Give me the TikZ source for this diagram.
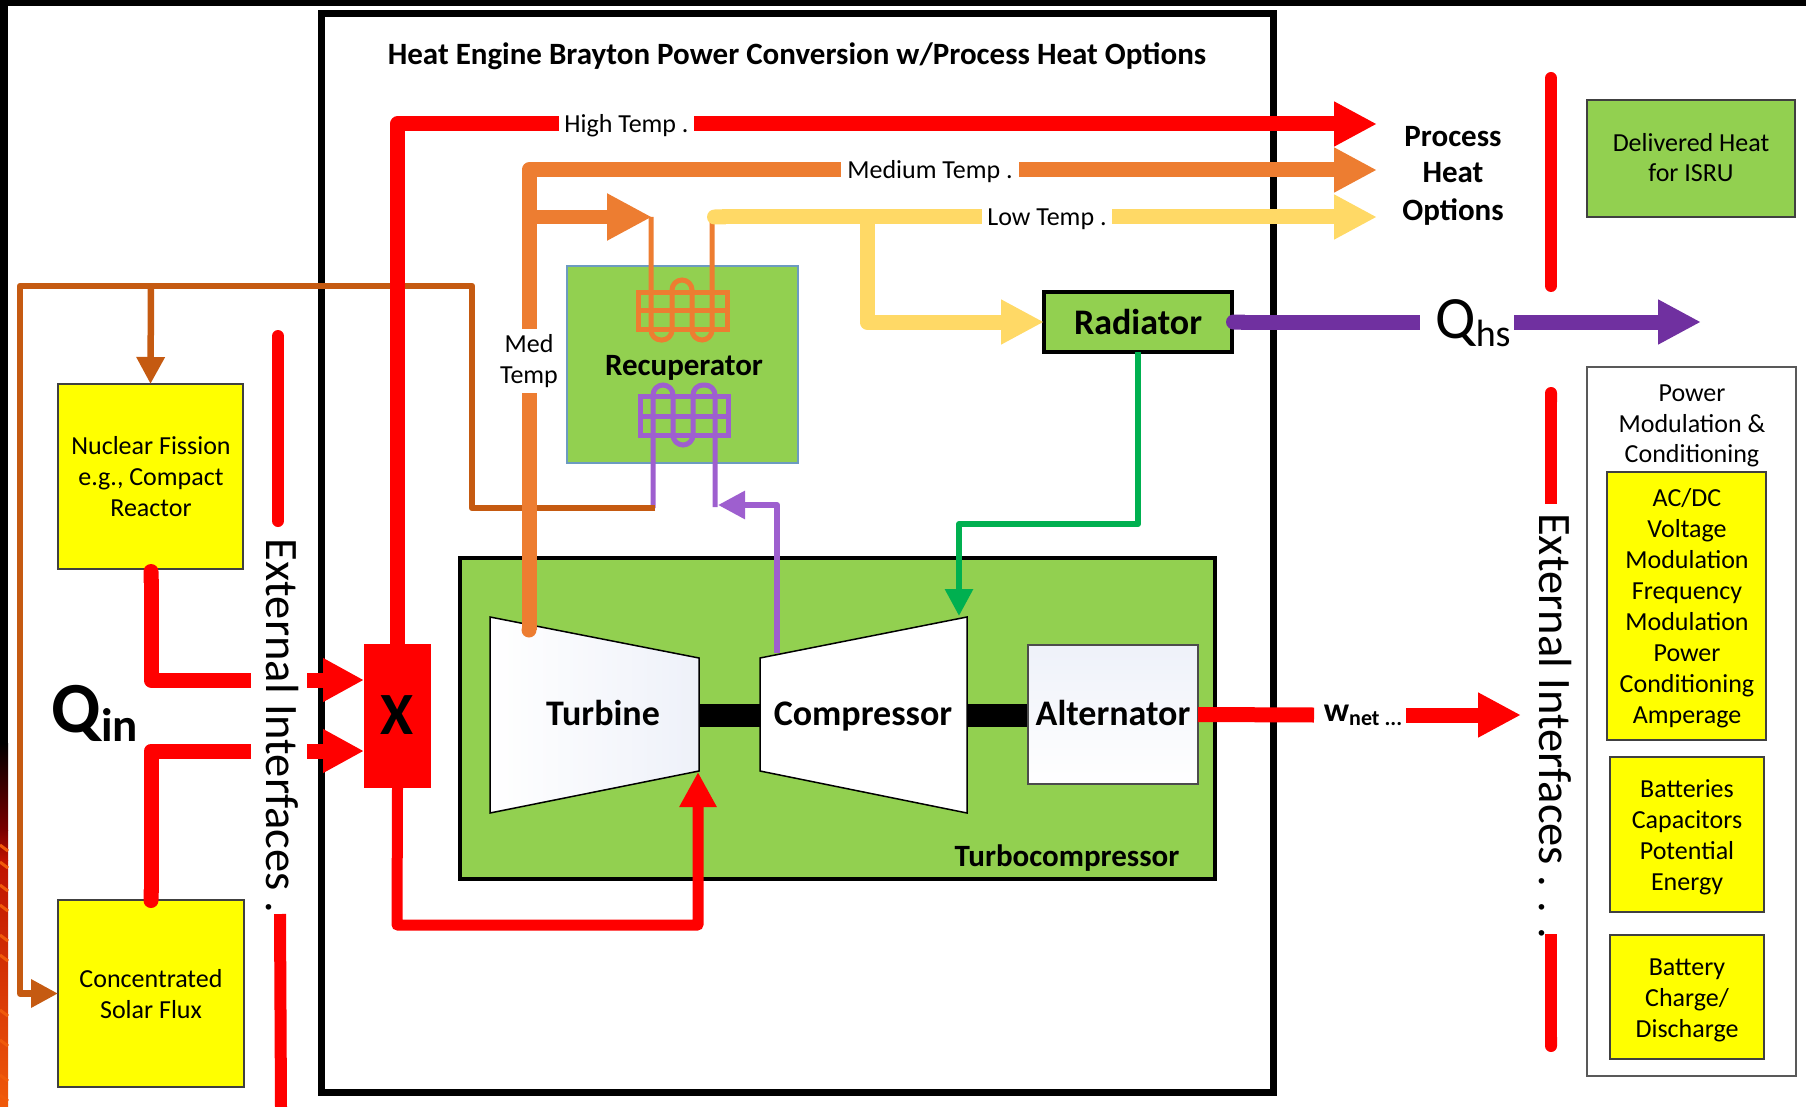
\documentclass[tikz,border=0pt]{standalone}
\usepackage{fontspec}
\setmainfont{Carlito}
\usetikzlibrary{arrows.meta}

\definecolor{boxgreen}{HTML}{92D050}
\definecolor{boxyellow}{HTML}{FFFF00}
\definecolor{hotred}{HTML}{FF0000}
\definecolor{medorange}{HTML}{ED7D31}
\definecolor{lowyellow}{HTML}{FFD966}
\definecolor{rustbrown}{HTML}{C55A11}
\definecolor{darkpurple}{HTML}{7030A0}
\definecolor{lightpurple}{HTML}{9E5FCF}
\definecolor{loopgreen}{HTML}{00B050}
\definecolor{steelblue}{HTML}{6C9BC0}
\definecolor{paleblue}{HTML}{EEF1F9}
\definecolor{firedark}{HTML}{7A0000}
\definecolor{firered}{HTML}{BE1200}
\definecolor{fireorange}{HTML}{F05A0A}

\newcommand{\fs}[1]{\fontsize{#1}{#1}\selectfont}

\tikzset{
  pipe/.style={line width=15pt, line join=round},
  thinpipe/.style={line width=6pt, line join=round},
  bigtip/.style={-{Triangle[length=43pt,width=42pt]}},
  smalltip/.style={-{Triangle[length=27pt,width=27pt]}},
  redbar/.style={line width=12pt, hotred},
  coil/.style={line width=5pt},
  srcbox/.style={draw=black!75, line width=2pt, fill=boxyellow, anchor=north west, inner sep=0pt, outer sep=0pt},
  flowlabel/.style={inner sep=0pt, outer sep=0pt, font=\fs{26}, text height=23pt, text depth=5pt},
  boldlabel/.style={inner sep=0pt, outer sep=0pt, font=\bfseries\fs{36}, text height=30pt, text depth=5pt},
  boldsmall/.style={inner sep=0pt, outer sep=0pt, font=\bfseries\fs{31}, text height=25pt, text depth=5pt},
  textline/.style={inner sep=0pt, outer sep=0pt, font=\fs{26}, text height=23pt, text depth=5pt, anchor=center}
}

\begin{document}
\begin{tikzpicture}[x=1pt, y=-1pt]
  \useasboundingbox (0,0) rectangle (1806,1107);

  % picture edge
  \fill[black] (0,0) rectangle (1806,6);
  \fill[black] (0,0) rectangle (8,743);
  \shade[top color=black, bottom color=firedark] (0,743) rectangle (8,830);
  \shade[top color=firedark, bottom color=firered] (0,830) rectangle (8,860);
  \shade[top color=firered, bottom color=fireorange] (0,860) rectangle (8,1107);
  \foreach \fy in {845,862,885,905,935,955,1010,1040,1075,1095} {
    \draw[fireorange, line width=3pt] (0,\fy) -- (8,\fy+6);
  }

  % main frame
  \draw[line width=7pt] (321,14) rectangle (1273,1092);
  \node[boldsmall] (title) at (797,55) {Heat Engine Brayton Power Conversion w/Process Heat Options};

  % sources
  \node[srcbox, minimum width=185pt, minimum height=185pt] (fission) at (58,384) {};
  \node[textline] (fissiontext) at (151,445) {Nuclear Fission};
  \node[textline] (fissiontextb) at (151,476) {e.g., Compact};
  \node[textline] (fissiontextc) at (151,507) {Reactor};
  \node[srcbox, minimum width=186pt, minimum height=187pt] (solar) at (58,900) {};
  \node[textline] (solartext) at (151,978) {Concentrated};
  \node[textline] (solartextb) at (151,1009) {Solar Flux};

  % external interfaces, left side
  \draw[redbar, line cap=round] (278,336) -- (278,521);
  \draw[redbar] (280,914) -- (281,1107);
  \node[inner sep=0pt, rotate=-90, font=\fs{46.5}] (extleft) at (282,726) {External Interfaces .};

  % turbocompressor
  \node[draw, line width=3.5pt, fill=boxgreen, anchor=north west, minimum width=755pt, minimum height=321pt, outer sep=0pt] (turbobox) at (460,558) {};
  \node[boldsmall] (turbolabel) at (1067,856) {Turbocompressor};
  \coordinate (turbineout) at (699,715);
  \coordinate (compin) at (760,715);
  \coordinate (compout) at (967,715);
  \coordinate (altin) at (1028,715);
  \draw[line width=23pt] (turbineout) -- (compin);
  \draw[line width=23pt] (compout) -- (altin);
  \shade[left color=white, right color=paleblue, draw=black, line width=1.5pt] (490,617) -- (699,658) -- (699,771) -- (490,813) -- cycle;
  \shade[left color=white, right color=white, draw=black, line width=1.5pt] (760,658) -- (967,617) -- (967,813) -- (760,771) -- cycle;
  \node[draw=black!70, line width=1.5pt, top color=paleblue, bottom color=white, anchor=north west, minimum width=170pt, minimum height=139pt, outer sep=0pt] (alternator) at (1028,645) {};
  \node[boldlabel] (turbine) at (603,713) {Turbine};
  \node[boldlabel] (compressor) at (863,713) {Compressor};
  \node[boldlabel] (altlabel) at (1113,713) {Alternator};

  % recuperator
  \node[draw=steelblue, line width=2pt, fill=boxgreen, anchor=north west, minimum width=231pt, minimum height=197pt, outer sep=0pt] (recup) at (567,266) {};
  \node[boldsmall] (recuplabel) at (684,365) {Recuperator};
  \draw[medorange, coil] (638,292) rectangle (727,329);
  \draw[medorange, coil] (638,310) -- (727,310);
  \draw[medorange, coil, rounded corners=10pt] (651,217) -- (651,340) -- (672,340) -- (672,280) -- (692,280) -- (692,340) -- (712,340) -- (712,217);
  \draw[lightpurple, coil] (640,396) rectangle (728,435);
  \draw[lightpurple, coil] (640,416) -- (728,416);
  \draw[lightpurple, coil, rounded corners=10pt] (653,508) -- (653,385) -- (673,385) -- (673,445) -- (693,445) -- (693,385) -- (715,385) -- (715,507);

  % radiator and delivered heat
  \node[draw, line width=4pt, fill=boxgreen, anchor=north west, minimum width=188pt, minimum height=60pt, outer sep=0pt] (radiator) at (1044,292) {};
  \node[boldlabel] (radlabel) at (1138,322) {Radiator};
  \node[srcbox, fill=boxgreen, minimum width=208pt, minimum height=117pt] (delivered) at (1587,100) {};
  \node[textline] (deliveredtext) at (1691,143) {Delivered Heat};
  \node[textline] (deliveredtextb) at (1691,173) {for ISRU};

  % heat loop to sources and recuperator
  \coordinate (loopend) at (655,508);
  \draw[rustbrown, line width=6.5pt, line join=round] (loopend) -- (472,508) -- (472,286) -- (20,286) -- (20,993.5) -- (40,993.5);
  \draw[rustbrown, line width=6.5pt, -{Triangle[length=27pt,width=27pt]}] (20,993.5) -- (solar.west |- 0,993.5);
  \draw[rustbrown, line width=6.5pt, smalltip] (151,286) -- (fission.north);

  % process heat lines
  \coordinate (highend) at (1377,124);
  \coordinate (medend) at (1377,170);
  \coordinate (lowend) at (1377,217);
  \node[flowlabel, minimum width=135pt] (hightemp) at (626.5,124) {High Temp .};
  \node[flowlabel, minimum width=178pt] (medtemp) at (930,170) {Medium Temp .};
  \node[flowlabel, minimum width=130pt] (lowtemp) at (1047,217) {Low Temp .};
  \node[flowlabel, minimum height=64pt, align=center, text height=, text depth=, font=\fontsize{26}{31}\selectfont] (medv) at (529,361) {Med\\Temp};
  \coordinate (turbinein) at (529,630);
  \coordinate (recupin) at (652,217);
  \coordinate (lowstart) at (707,217);
  \coordinate (radcorner) at (867,322);

  \draw[medorange, pipe] (turbinein) -- (medv.south);
  \draw[medorange, pipe] (medv.north) |- (medtemp.west);
  \draw[medorange, pipe, bigtip] (medtemp.east) -- (medend);
  \draw[medorange, line width=14pt, -{Triangle[length=45pt,width=44pt]}] (529,217) -- (recupin);
  \fill[medorange] (turbinein) circle (7.5pt);

  \draw[lowyellow, pipe, {Round Cap[]}-] (lowstart) -- (lowtemp.west);
  \draw[lowyellow, pipe, bigtip] (lowtemp.east) -- (lowend);
  \draw[lowyellow, pipe, bigtip] (867,217) -- (radcorner) -- (radiator.west);

  % heat input
  \node[draw=none, fill=hotred, anchor=north west, minimum width=67pt, minimum height=144pt, outer sep=0pt, inner sep=0pt] (xbox) at (364,644) {};
  \node[inner sep=0pt, font=\bfseries\fs{60}] (xlabel) at (397,715) {X};
  \draw[hotred, pipe] (xbox.north) |- (hightemp.west);
  \draw[hotred, pipe, bigtip] (hightemp.east) -- (highend);
  \draw[hotred, line width=11pt, line join=round, -{Triangle[length=35pt,width=35pt]}] (xbox.south) -- (397,925) -- (698,925) -- (698,772);

  \coordinate (fissionout) at (251,680);
  \coordinate (fissionin) at (307,680);
  \coordinate (solarout) at (251,751);
  \coordinate (solarin) at (307,751);
  \draw[hotred, pipe, {Round Cap[]}-] (151,564) -- (151,680) -- (fissionout);
  \draw[hotred, pipe, {Round Cap[]}-] (151,908) -- (151,751) -- (solarout);
  \draw[hotred, pipe, -{Triangle[length=41pt,width=41pt]}] (fissionin) -- (xbox.west |- fissionin);
  \draw[hotred, pipe, -{Triangle[length=41pt,width=41pt]}] (solarin) -- (xbox.west |- solarin);
  \node[inner sep=0pt, font=\bfseries\fs{72}] (qin) at (95,713) {Q\raisebox{-9pt}{\fs{47}in}};

  % recuperator and radiator loop
  \draw[loopgreen, thinpipe, smalltip] (radiator.south) -- (1138,524) -- (959,524) -- (959,616);
  \draw[lightpurple, thinpipe, smalltip] (777,653) -- (777,505) -- (718,505);

  % heat rejection
  \node[inner sep=0pt, font=\fs{60}] (qhs) at (1473,323) {Q\raisebox{-8pt}{\fs{38}hs}};
  \coordinate (qhsend) at (1701,322);
  \draw[darkpurple, pipe, {Round Cap[]}-] (1226,322) -- (1420,322);
  \draw[darkpurple, pipe, bigtip] (1514,322) -- (qhsend);

  % net work
  \node[inner sep=0pt, font=\bfseries\fs{34}] (wnet) at (1363,715) {w\raisebox{-4pt}{\fs{22}net ...}};
  \coordinate (wnetend) at (1521,715);
  \draw[hotred, pipe] (alternator.east) -- (1314,715);
  \draw[hotred, pipe, bigtip] (1406,715) -- (wnetend);

  % process heat text
  \node[boldsmall] (processtext) at (1453,137) {Process};
  \node[boldsmall] (processtextb) at (1453,173) {Heat};
  \node[boldsmall] (processtextc) at (1453,211) {Options};

  % external interfaces, right side
  \draw[redbar, line cap=round] (1551,78) -- (1551,286);
  \draw[redbar, {Round Cap[]}-] (1551,387) -- (1551,504);
  \draw[redbar, -{Round Cap[]}] (1551,934) -- (1551,1052);
  \node[inner sep=0pt, rotate=-90, font=\fs{46.5}] (extright) at (1555,726) {External Interfaces . . .};

  % power conditioning
  \node[draw=black!65, line width=2pt, fill=white, anchor=north west, minimum width=209pt, minimum height=709pt, outer sep=0pt] (powerbox) at (1587,367) {};
  \node[textline] (powertext) at (1692,392) {Power};
  \node[textline] (powertextb) at (1692,423) {Modulation \&};
  \node[textline] (powertextc) at (1692,453) {Conditioning};
  \node[srcbox, minimum width=159pt, minimum height=268pt] (acdc) at (1607,472) {};
  \node[textline] (acdca) at (1687,497) {AC/DC};
  \node[textline] (acdcb) at (1687,528) {Voltage};
  \node[textline] (acdcc) at (1687,559) {Modulation};
  \node[textline] (acdcd) at (1687,590) {Frequency};
  \node[textline] (acdce) at (1687,621) {Modulation};
  \node[textline] (acdcf) at (1687,652) {Power};
  \node[textline] (acdcg) at (1687,683) {Conditioning};
  \node[textline] (acdch) at (1687,714) {Amperage};
  \node[srcbox, minimum width=154pt, minimum height=155pt] (batteries) at (1610,757) {};
  \node[textline] (batta) at (1687,788) {Batteries};
  \node[textline] (battb) at (1687,819) {Capacitors};
  \node[textline] (battc) at (1687,850) {Potential};
  \node[textline] (battd) at (1687,881) {Energy};
  \node[srcbox, minimum width=154pt, minimum height=124pt] (charge) at (1610,935) {};
  \node[textline] (chargea) at (1687,966) {Battery};
  \node[textline] (chargeb) at (1687,997) {Charge/};
  \node[textline] (chargec) at (1687,1028) {Discharge};

\end{tikzpicture}
\end{document}
